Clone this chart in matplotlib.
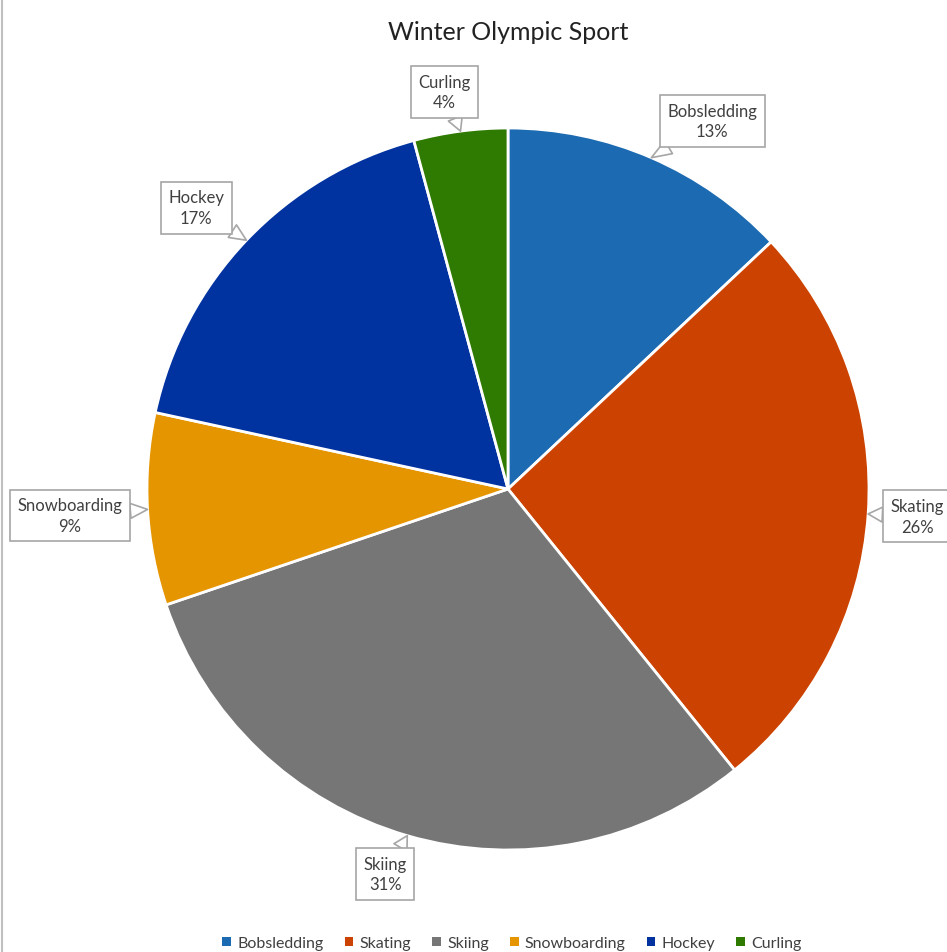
import numpy as np
import matplotlib.pyplot as plt
from matplotlib.lines import Line2D

plt.rcParams['font.family'] = ['Lato', 'DejaVu Sans']

# dados do grafico
esportes = ['Bobsledding', 'Skating', 'Skiing', 'Snowboarding', 'Hockey', 'Curling']
valores = [13.0, 26.2, 30.6, 8.6, 17.4, 4.2]
cores = ['#1C6AB1', '#CC4200', '#767676', '#E59500', '#0033A0', '#2F7A00']

# ajustes de posicao dos rotulos (raio relativo, desvio de angulo)
raio_rotulo = [1.166, 1.136, 1.119, 1.216, 1.163, 1.114]
desvio_ang = [-5.6, 0.15, -1.5, 0.25, 1.5, 1.5]

W, H = 947, 953
fig = plt.figure(figsize=(W / 100, H / 100), dpi=100)
ax = fig.add_axes([0, 0, 1, 1])

cx, cy, R = 508, H - 490, 361
wedges, _ = ax.pie(valores, colors=cores, startangle=90, counterclock=False,
                   center=(cx, cy), radius=R, frame=True,
                   wedgeprops=dict(edgecolor='white', linewidth=2))
ax.set_xlim(0, W)
ax.set_ylim(0, H)
ax.set_aspect('equal')
ax.axis('off')

total = sum(valores)
for i, w in enumerate(wedges):
    meio = (w.theta1 + w.theta2) / 2
    a = np.deg2rad(meio)
    borda = (cx + R * np.cos(a), cy + R * np.sin(a))
    b = np.deg2rad(meio + desvio_ang[i])
    pos = (cx + R * raio_rotulo[i] * np.cos(b), cy + R * raio_rotulo[i] * np.sin(b))
    ax.annotate('{}\n{:.0f}%'.format(esportes[i], valores[i] / total * 100), xy=borda, xytext=pos,
                ha='center', va='center', fontsize=12, color='#404040', linespacing=1.35,
                bbox=dict(boxstyle='square,pad=0.45', fc='white', ec='#A6A6A6', lw=1.2),
                arrowprops=dict(arrowstyle='wedge,tail_width=0.9,shrink_factor=0.5',
                                fc='white', ec='#A6A6A6', lw=1.2, shrinkA=0, shrinkB=0))

fig.text(508 / W, 1 - 33 / H, 'Winter Olympic Sport', ha='center', va='center',
         fontsize=18, color='#222222')

# linha cinza na borda esquerda
fig.add_artist(Line2D([2 / W, 2 / W], [0, 1], color='#BFBFBF', lw=1.5))

handles = [plt.Rectangle((0, 0), 1, 1, fc=c, ec='none') for c in cores]
fig.legend(handles, esportes, loc='center', bbox_to_anchor=(512 / W, 1 - 944 / H), ncol=6,
           frameon=False, fontsize=11.5, handlelength=0.55, handleheight=0.55,
           handletextpad=0.4, columnspacing=1.3, labelcolor='#404040')

fig.savefig('out.png', dpi=100)
